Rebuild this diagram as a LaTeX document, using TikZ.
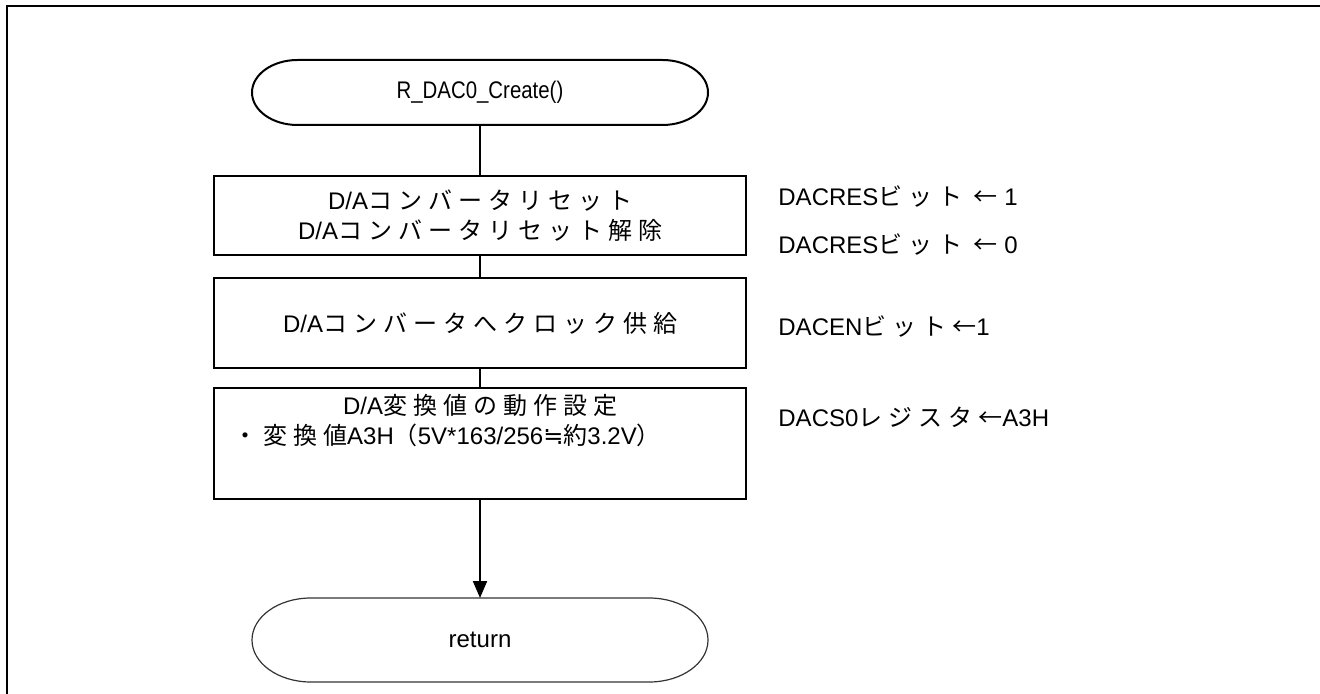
\documentclass[tikz,border=0pt]{standalone}
\usepackage{fontspec}
\setmainfont{Liberation Sans}
\newfontfamily\jp[LetterSpace=25]{Noto Sans CJK JP}
\newfontfamily\sym{DejaVu Sans}
\usetikzlibrary{arrows.meta}

% terminal: name, position, width (pt), height (pt), text, line options
\newcommand\terminal[6]{%
  \node[minimum width=#3pt, minimum height=#4pt, inner sep=0pt, outer sep=0pt] (#1) at (#2) {#5};
  \draw[#6] (#1.north east) ++({-0.7*#4*1pt},0pt)
    arc[start angle=90, end angle=-90, x radius=0.7*#4*1pt, y radius=0.5*#4*1pt]
    -- ++({-(#3-1.4*#4)*1pt},0pt)
    arc[start angle=270, end angle=90, x radius=0.7*#4*1pt, y radius=0.5*#4*1pt]
    -- cycle;
}

\tikzset{
  proc/.style={draw, line width=1pt, minimum width=266pt, inner sep=0pt, outer sep=0pt, align=center},
  note/.style={anchor=west, inner sep=0pt},
  flow/.style={line width=1pt},
}

\begin{document}
\begin{tikzpicture}[x=0.5pt,y=-0.5pt,every node/.style={font=\fontsize{12}{15}\selectfont}]
	%% page frame
	\useasboundingbox (0,0) rectangle (1320,694);
	\draw[line width=1.25pt] (1320,6) -- (7,6) -- (7,694);

	% flow chart
	\terminal{start}{480,92.5}{228}{32.5}{\scalebox{0.85}[1]{R\_DAC0\_Create()}}{line width=1pt}
	\node[proc, minimum height=39.5pt] (reset) at (480,215.5)
	  {D/A{\jp コンバータリセット}\\D/A{\jp コンバータリセット解除}};
	\node[proc, minimum height=45pt] (clock) at (480,323)
	  {D/A{\jp コンバータへクロック供給}};
	\node[proc, minimum height=55.5pt] (conv) at (480,443.5) {};
	\node (convtxt) at (480,421) [align=center]
	  {D/A{\jp 変換値の動作設定}\\{\jp ・変換値}A3H{\jp （}5V*163/256{\sym ≒}{\jp 約}3.2V{\jp ）}\hspace*{33pt}};
	\terminal{ret}{480,640}{228}{42}{return}{line width=0.6pt, draw=black!80}

	\draw[flow] (start) -- (reset);
	\draw[flow] (reset) -- (clock);
	\draw[flow] (clock) -- (conv);
	\draw[flow,-{Triangle[length=8.5pt,width=7pt]}] (conv) -- (ret);

	% register notes
	\node[note] (n1) at (778,197) {DACRES{\jp ビット ←} 1};
	\node[note] (n2) at (778,245) {DACRES{\jp ビット ←} 0};
	\node[note] (n3) at (778,327) {DACEN{\jp ビット←}1};
	\node[note] (n4) at (778,417) {DACS0{\jp レジスタ←}A3H};
\end{tikzpicture}
\end{document}
